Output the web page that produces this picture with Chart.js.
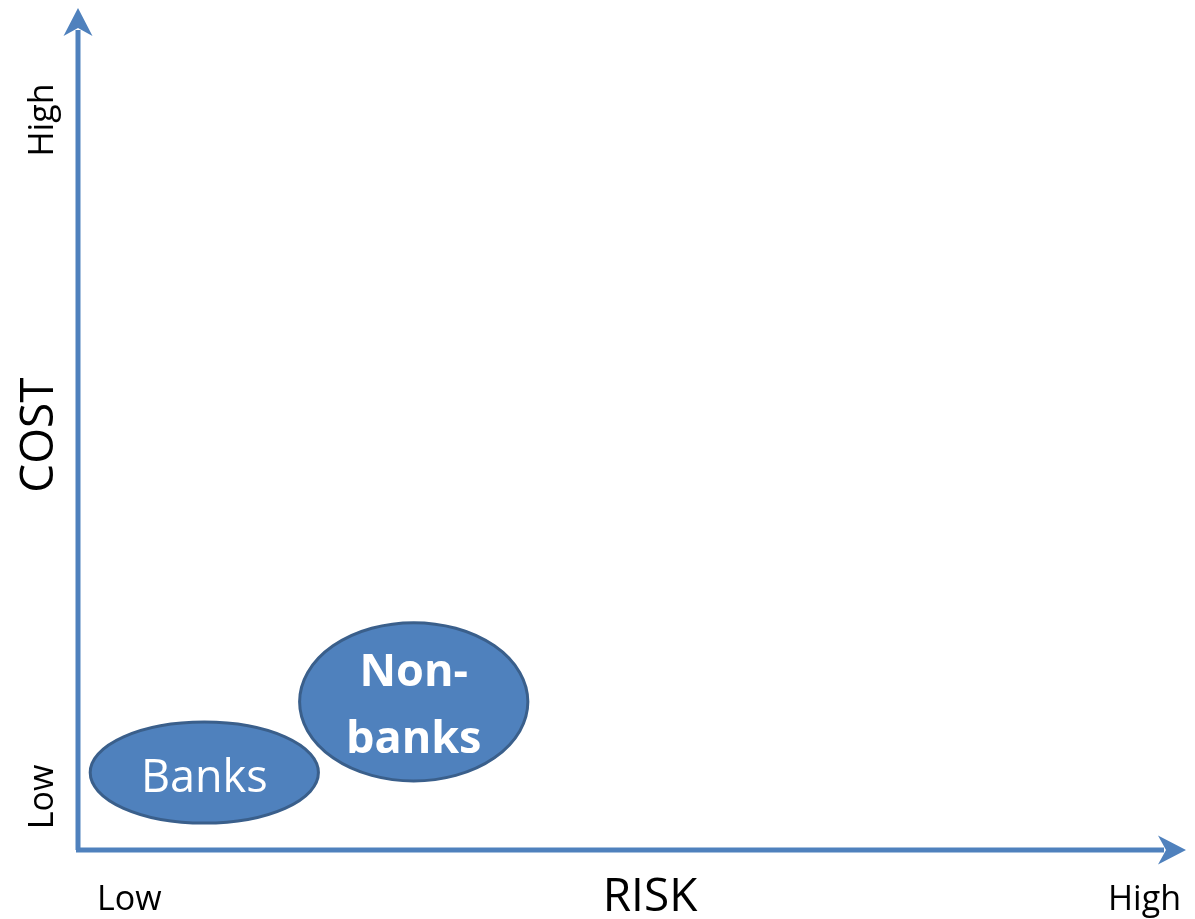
<!DOCTYPE html>
<html>
<head>
<meta charset="utf-8">
<title>Risk vs Cost</title>
<script src="https://cdn.jsdelivr.net/npm/chart.js@4"></script>
<style>
    html, body { margin: 0; padding: 0; background: #fff; }
    #wrap { width: 1195px; height: 919px; position: relative; }
</style>
</head>
<body>
<div id="wrap"><canvas id="riskChart"></canvas></div>
<script>
// Chart data (units: 0-100 on both axes)
const categories = ['Banks', 'Non-banks'];
const labelLines = [['Banks'], ['Non-', 'banks']];
const boldLabel = [false, true];
const riskValues = [11.4, 30.3];   // ellipse centre, x
const costValues = [9.2, 17.6];    // ellipse centre, y
const riskSpread = [10.3, 10.3];   // half width
const costSpread = [6.0, 9.4];     // half height
const axisTicks = ['Low', 'High'];
const xTitle = 'RISK';
const yTitle = 'COST';

const blue = '#4F81BD';
const darkBlue = '#3A5F8B';
const font = '"Open Sans", "DejaVu Sans", sans-serif';

// draws the two axes with arrow heads, the labels and the ellipses
const matrixPlugin = {
    id: 'matrix',
    afterDatasetsDraw(chart) {
        const ctx = chart.ctx;
        const area = chart.chartArea;
        const xs = chart.scales.x;
        const ys = chart.scales.y;
        const x0 = xs.getPixelForValue(0);
        const y0 = ys.getPixelForValue(0);

        ctx.save();

        // ellipses
        categories.forEach((cat, i) => {
            const cx = xs.getPixelForValue(riskValues[i]);
            const cy = ys.getPixelForValue(costValues[i]);
            const rx = xs.getPixelForValue(riskValues[i] + riskSpread[i]) - cx;
            const ry = cy - ys.getPixelForValue(costValues[i] + costSpread[i]);
            ctx.beginPath();
            ctx.ellipse(cx, cy, rx, ry, 0, 0, Math.PI * 2);
            ctx.fillStyle = blue;
            ctx.fill();
            ctx.lineWidth = 3;
            ctx.strokeStyle = darkBlue;
            ctx.stroke();

            const lines = labelLines[i];
            const lh = 67;
            ctx.fillStyle = '#fff';
            ctx.textAlign = 'center';
            ctx.textBaseline = 'alphabetic';
            ctx.font = (boldLabel[i] ? 'bold ' : '') + '45px ' + font;
            const firstBase = cy + 19 - (lines.length - 1) * lh / 2 + (lines.length > 1 ? -1 : 0);
            lines.forEach((ln, j) => {
                ctx.fillText(ln, cx, firstBase + j * lh);
            });
        });

        // axes
        ctx.strokeStyle = blue;
        ctx.fillStyle = blue;
        ctx.lineWidth = 5;
        ctx.beginPath();
        ctx.moveTo(x0, y0);
        ctx.lineTo(x0, area.top + 22);
        ctx.moveTo(x0 - 2, y0);
        ctx.lineTo(area.right - 22, y0);
        ctx.stroke();

        // arrow head, up
        ctx.beginPath();
        ctx.moveTo(x0, area.top);
        ctx.lineTo(x0 + 14.5, area.top + 28);
        ctx.lineTo(x0, area.top + 20);
        ctx.lineTo(x0 - 14.5, area.top + 28);
        ctx.closePath();
        ctx.fill();

        // arrow head, right
        ctx.beginPath();
        ctx.moveTo(area.right, y0);
        ctx.lineTo(area.right - 28, y0 - 14.5);
        ctx.lineTo(area.right - 20, y0);
        ctx.lineTo(area.right - 28, y0 + 14.5);
        ctx.closePath();
        ctx.fill();

        // labels
        ctx.fillStyle = '#000';
        ctx.textBaseline = 'alphabetic';
        ctx.font = '34px ' + font;
        ctx.textAlign = 'left';
        ctx.fillText(axisTicks[0], x0 + 19, 910);
        ctx.textAlign = 'right';
        ctx.fillText(axisTicks[1], area.right - 5, 910);
        ctx.font = '46px ' + font;
        ctx.textAlign = 'center';
        ctx.fillText(xTitle, 650, 911);

        const vText = (txt, size, cy) => {
            ctx.save();
            ctx.translate(53, cy);
            ctx.rotate(-Math.PI / 2);
            ctx.font = size + 'px ' + font;
            ctx.textAlign = 'center';
            ctx.fillText(txt, 0, 0);
            ctx.restore();
        };
        vText(axisTicks[0], 34, 797);
        vText(axisTicks[1], 34, 120);
        vText(yTitle, 46, 435);

        ctx.restore();
    }
};

document.addEventListener('DOMContentLoaded', function () {
    const ctx = document.getElementById('riskChart').getContext('2d');
    new Chart(ctx, {
        type: 'scatter',
        data: {
            labels: categories,
            datasets: [{
                label: 'Groups',
                data: categories.map((c, i) => ({ x: riskValues[i], y: costValues[i] })),
                pointRadius: 0,
                pointHoverRadius: 0
            }]
        },
        options: {
            responsive: true,
            maintainAspectRatio: false,
            animation: false,
            layout: { padding: { left: 78, right: 9, top: 8, bottom: 69 } },
            scales: {
                x: { display: false, min: 0, max: 100 },
                y: { display: false, min: 0, max: 100 }
            },
            plugins: {
                legend: { display: false },
                tooltip: { enabled: false }
            }
        },
        plugins: [matrixPlugin]
    });
});
</script>
</body>
</html>
